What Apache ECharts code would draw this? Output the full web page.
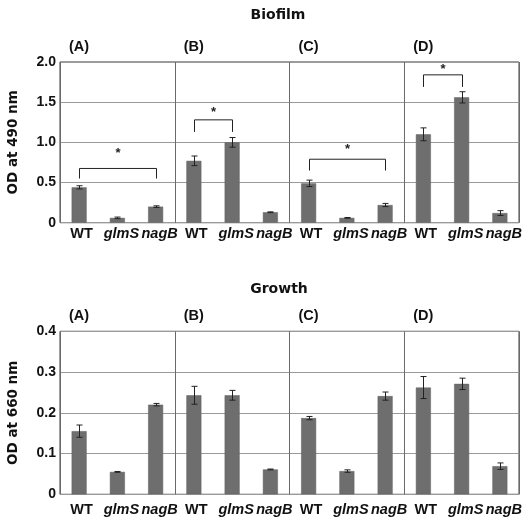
<!DOCTYPE html>
<html>
<head>
<meta charset="utf-8">
<script src="https://cdn.jsdelivr.net/npm/echarts@6/dist/echarts.min.js"></script>
<style>html,body{margin:0;padding:0;background:#fff;}#c{width:531px;height:523px;}</style>
</head>
<body>
<div id="c"></div>
<script>
// ---- data ----
const categories = ['WT','glmS','nagB','WT','glmS','nagB','WT','glmS','nagB','WT','glmS','nagB'];
const groupLabels = ['(A)','(B)','(C)','(D)'];
const groupStarts = [0, 3, 6, 9];
const biofilm    = [0.44, 0.06, 0.20, 0.77, 1.00, 0.13, 0.49, 0.06, 0.22, 1.10, 1.56, 0.12];
const biofilmErr = [0.02, 0.01, 0.01, 0.06, 0.06, 0.005, 0.04, 0.005, 0.02, 0.08, 0.07, 0.03];
const growth     = [0.155, 0.055, 0.220, 0.243, 0.243, 0.061, 0.187, 0.057, 0.241, 0.262, 0.271, 0.069];
const growthErr  = [0.015, 0.001, 0.003, 0.022, 0.012, 0.001, 0.004, 0.003, 0.010, 0.027, 0.014, 0.008];
// significance brackets: [fromIndex, toIndex, barTop, legBottom, starValue]
const biofilmSig = [[0, 2, 0.675, 0.55, 0.90], [3, 4, 1.28, 1.13, 1.41], [6, 8, 0.79, 0.65, 0.95], [9, 10, 1.84, 1.69, 1.95]];
const biofilmTicks = {min: 0, max: 2.0, interval: 0.5};
const growthTicks = {min: 0, max: 0.4, interval: 0.1};

const FONT = '"Liberation Sans", Arial, sans-serif';
const WIDE = '"DejaVu Sans", sans-serif';
const chart = echarts.init(document.getElementById('c'), null, {renderer: 'canvas'});

const grids = [
  {left: 60, right: 12, top: 62, height: 160.7, show: true, borderColor: '#3a3a3a', borderWidth: 1, backgroundColor: 'transparent', outerBoundsMode: 'none', containLabel: false},
  {left: 60, right: 12, top: 331.3, height: 163, show: true, borderColor: '#3a3a3a', borderWidth: 1, backgroundColor: 'transparent', outerBoundsMode: 'none', containLabel: false}
];

function xAxis(gi, margin) {
  return {
    type: 'category', gridIndex: gi, data: categories,
    axisLine: {show: false}, axisTick: {show: false},
    splitLine: {show: true, interval: (i) => i % 3 === 0, lineStyle: {color: '#6a6a6a', width: 1}},
    axisLabel: {
      interval: 0, margin: margin,
      formatter: (v) => v === 'WT' ? '{n|' + v + '}' : '{i|' + v + '}',
      rich: {
        n: {fontFamily: FONT, fontWeight: 'bold', fontSize: 14.5, color: '#111', padding: [0, 0, 0, 5]},
        i: {fontFamily: FONT, fontWeight: 'bold', fontStyle: 'italic', fontSize: 14.5, color: '#111', padding: [0, 0, 0, 8]}
      }
    }
  };
}
function yAxis(gi, t, name) {
  return {
    type: 'value', gridIndex: gi, min: t.min, max: t.max, interval: t.interval,
    name: name, nameLocation: 'middle', nameGap: 40,
    nameTextStyle: {fontFamily: WIDE, fontWeight: 'bold', fontSize: 13.5, color: '#111'},
    axisLine: {show: false}, axisTick: {show: false},
    splitLine: {show: true, lineStyle: {color: '#9a9a9a', width: 1}},
    axisLabel: {
      margin: 4, fontFamily: FONT, fontWeight: 'bold', fontSize: 14, color: '#111',
      formatter: (v) => v === 0 ? '0' : v.toFixed(1)
    }
  };
}

function barSeries(gi, vals) {
  return {
    type: 'bar', xAxisIndex: gi, yAxisIndex: gi, data: vals, barWidth: 15,
    itemStyle: {color: '#6e6e6e', borderColor: '#606060', borderWidth: 0.5},
    silent: true, z: 2
  };
}
function errSeries(gi, vals, errs) {
  return {
    type: 'custom', xAxisIndex: gi, yAxisIndex: gi, z: 5, silent: true,
    data: vals.map((v, i) => [i, v, errs[i]]),
    encode: {x: 0, y: 1},
    renderItem: (params, api) => {
      const i = api.value(0), v = api.value(1), e = api.value(2);
      const hi = api.coord([i, v + e]), lo = api.coord([i, v - e]);
      const x = Math.round(hi[0]) + 0.5, cw = 3;
      const st = {stroke: '#222', lineWidth: 1};
      return {type: 'group', children: [
        {type: 'line', shape: {x1: x, y1: hi[1], x2: x, y2: lo[1]}, style: st},
        {type: 'line', shape: {x1: x - cw, y1: hi[1], x2: x + cw, y2: hi[1]}, style: st},
        {type: 'line', shape: {x1: x - cw, y1: lo[1], x2: x + cw, y2: lo[1]}, style: st}
      ]};
    }
  };
}
function sigSeries(gi, sig) {
  return {
    type: 'custom', xAxisIndex: gi, yAxisIndex: gi, z: 6, silent: true,
    data: sig, encode: {x: 0, y: 2},
    renderItem: (params, api) => {
      const a = api.value(0), b = api.value(1), top = api.value(2), leg = api.value(3), sv = api.value(4);
      const p1 = api.coord([a, top]), p2 = api.coord([b, top]);
      const l1 = api.coord([a, leg]), s = api.coord([a, sv]);
      const x1 = Math.round(p1[0]) + 0.5, x2 = Math.round(p2[0]) + 0.5;
      const st = {stroke: '#222', lineWidth: 1};
      return {type: 'group', children: [
        {type: 'line', shape: {x1: x1, y1: p1[1], x2: x2, y2: p1[1]}, style: st},
        {type: 'line', shape: {x1: x1, y1: p1[1], x2: x1, y2: l1[1]}, style: st},
        {type: 'line', shape: {x1: x2, y1: p1[1], x2: x2, y2: l1[1]}, style: st},
        {type: 'text', x: (x1 + x2) / 2, y: s[1] + 3, style: {text: '*', fontFamily: FONT, fontSize: 13, fontWeight: 'bold', fill: '#222', align: 'center', verticalAlign: 'middle'}}
      ]};
    }
  };
}
function groupLabelSeries(gi, ymax) {
  return {
    type: 'custom', xAxisIndex: gi, yAxisIndex: gi, z: 6, silent: true, clip: false,
    data: groupStarts.map((s) => [s, ymax]), encode: {x: 0, y: 1},
    renderItem: (params, api) => {
      const p = api.coord([api.value(0), api.value(1)]);
      const bw = api.size([1, 0])[0];
      return {type: 'text', x: p[0] - bw / 2 + 9, y: p[1] - 15,
        style: {text: groupLabels[params.dataIndex], fontFamily: FONT, fontSize: 14.5, fontWeight: 'bold', fill: '#111', align: 'left', verticalAlign: 'middle'}};
    }
  };
}

chart.setOption({
  animation: false,
  backgroundColor: '#fff',
  title: [
    {text: 'Biofilm', left: 273, top: 3, textAlign: 'center', textStyle: {fontFamily: WIDE, fontWeight: 'bold', fontSize: 14, color: '#111'}},
    {text: 'Growth', left: 274, top: 277, textAlign: 'center', textStyle: {fontFamily: WIDE, fontWeight: 'bold', fontSize: 14, color: '#111'}}
  ],
  grid: grids,
  xAxis: [xAxis(0, 4), xAxis(1, 8)],
  yAxis: [yAxis(0, biofilmTicks, 'OD at 490 nm'), yAxis(1, growthTicks, 'OD at 660 nm')],
  series: [
    barSeries(0, biofilm), errSeries(0, biofilm, biofilmErr), sigSeries(0, biofilmSig), groupLabelSeries(0, biofilmTicks.max),
    barSeries(1, growth), errSeries(1, growth, growthErr), groupLabelSeries(1, growthTicks.max)
  ]
});
</script>
</body>
</html>
